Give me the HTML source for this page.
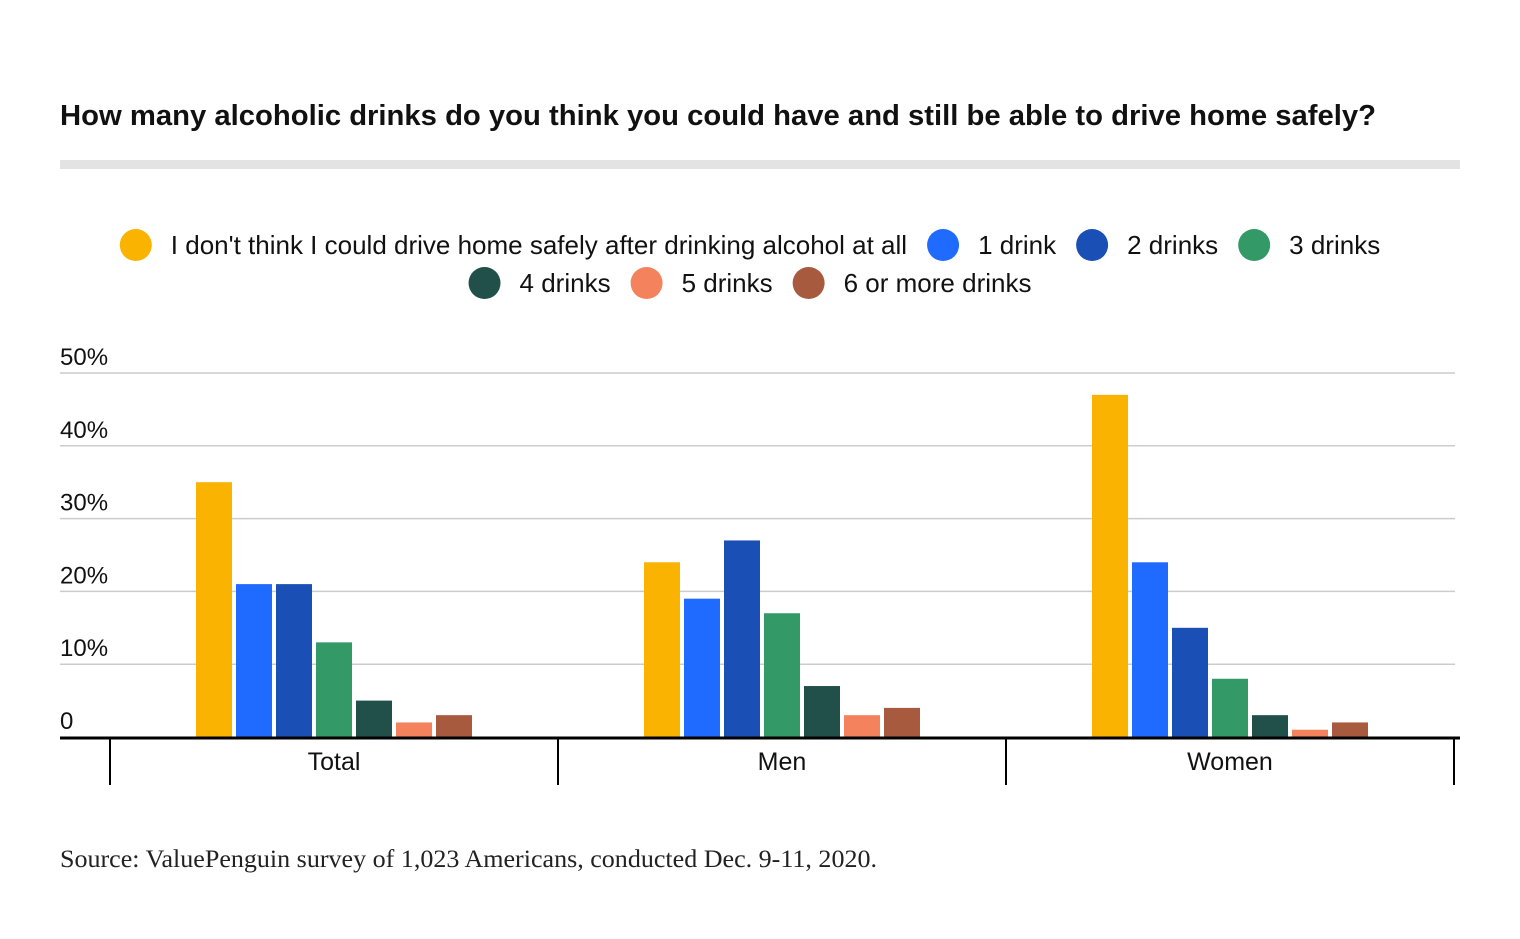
<!DOCTYPE html>
<html><head><meta charset="utf-8"><style>
body{margin:0;background:#fff;width:1520px;height:934px;overflow:hidden}
svg text{font-family:"Liberation Sans",sans-serif}
</style></head><body>
<svg id="chart" width="1520" height="934">
<text x="60" y="125" font-size="29" font-weight="bold" fill="#111" textLength="1316" lengthAdjust="spacingAndGlyphs">How many alcoholic drinks do you think you could have and still be able to drive home safely?</text>
<rect x="60" y="160" width="1400" height="9" fill="#e3e3e3"/>
<g id="legend"></g>
<g id="grid"></g>
<g id="bars"></g>
<g id="axis"></g>
<text x="60" y="867" font-size="25" fill="#222" textLength="817" lengthAdjust="spacingAndGlyphs" style="font-family:'Liberation Serif',serif">Source: ValuePenguin survey of 1,023 Americans, conducted Dec. 9-11, 2020.</text>
</svg>
<script>
const categories=["Total","Men","Women"];
const seriesNames=["I don't think I could drive home safely after drinking alcohol at all","1 drink","2 drinks","3 drinks","4 drinks","5 drinks","6 or more drinks"];
const colors=["#F9B300","#1F6BFF","#1A4FB5","#339966","#21504A","#F4825C","#A85A3F"];
const totalVals=[35,21,21,13,5,2,3];
const menVals=[24,19,27,17,7,3,4];
const womenVals=[47,24,15,8,3,1,2];
const yTicks=[0,10,20,30,40,50];
const yTickLabels=["0","10%","20%","30%","40%","50%"];
const groups=[totalVals,menVals,womenVals];
const NS="http://www.w3.org/2000/svg";
function mk(t,a,p){const e=document.createElementNS(NS,t);for(const k in a)e.setAttribute(k,a[k]);p.appendChild(e);return e;}
const y0=737,pxPer=7.28;
function yScale(v){return y0-v*pxPer;}
const left=110,groupW=448;
function xGroup(i){return left+i*groupW;}
const grid=document.getElementById('grid');
yTicks.forEach((t,i)=>{
  if(t>0){const l=mk('line',{x1:60,x2:1455,y1:yScale(t),y2:yScale(t),stroke:'#cccccc','stroke-width':1.5},grid);
  
  }
  const tx=mk('text',{x:60,y:yScale(t)-8,'font-size':24,fill:'#111'},grid);tx.textContent=yTickLabels[i];
  
  
});
const bars=document.getElementById('bars');
groups.forEach((vals,g)=>{vals.forEach((v,s)=>{
  const r=mk('rect',{x:xGroup(g)+86+s*40,y:yScale(v),width:36,height:v*pxPer,fill:colors[s]},bars);
  
  
});});
const axis=document.getElementById('axis');
const al=mk('line',{x1:60,x2:1460,y1:738,y2:738,stroke:'#000','stroke-width':3},axis);


for(let i=0;i<=categories.length;i++){
  const t=mk('line',{x1:xGroup(i),x2:xGroup(i),y1:738,y2:785,stroke:'#000','stroke-width':2},axis);
  
  
}
categories.forEach((c,i)=>{
  const t=mk('text',{x:xGroup(i)+groupW/2,y:770,'font-size':25,'text-anchor':'middle',fill:'#111'},axis);t.textContent=c;
  
  
});
const legend=document.getElementById('legend');
const rows=[[0,1,2,3],[4,5,6]];
const rowY=[245,283];
rows.forEach((row,ri)=>{
  const g=mk('g',{},legend);
  let x=0;
  row.forEach(s=>{
    const c=mk('circle',{cx:x+16,cy:rowY[ri],r:16,fill:colors[s]},g);
    const t=mk('text',{x:x+51,y:rowY[ri]+9,'font-size':26,fill:'#111'},g);t.textContent=seriesNames[s];
    
    
    
    
    x+=51+t.getComputedTextLength()+20;
  });
  const w=x-20;
  g.setAttribute('transform','translate('+(750-w/2)+',0)');
});
</script>
</body></html>
